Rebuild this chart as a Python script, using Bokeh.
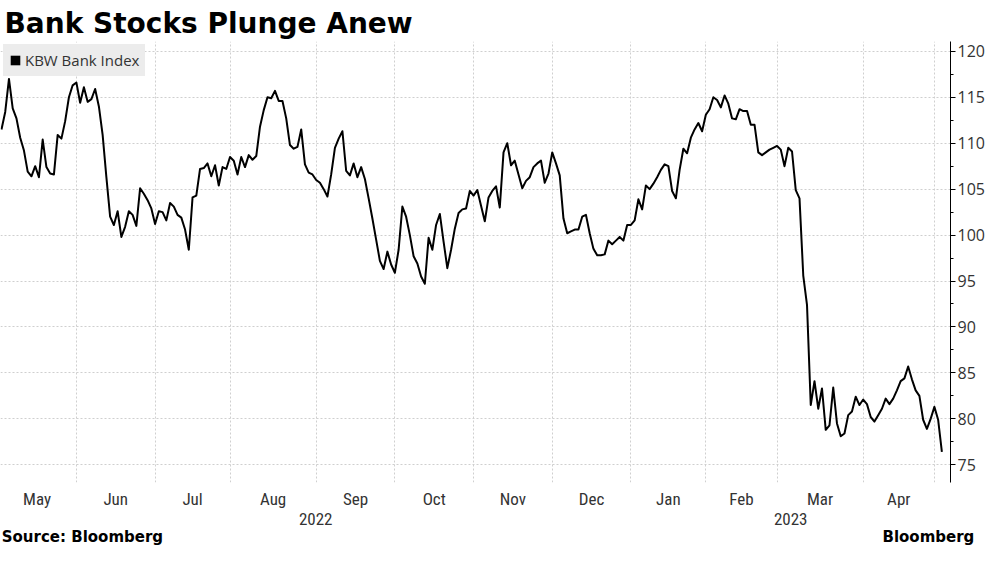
import numpy as np
import pandas as pd
from bokeh.plotting import figure
from bokeh.models import (Range1d, FixedTicker, Legend, LegendItem, ColumnDataSource, LinearAxis)
from bokeh.embed import file_html
from bokeh.resources import INLINE

TITLE = "Bank Stocks Plunge Anew"
SERIES_NAME = "KBW Bank Index"
SOURCE = "Source: Bloomberg"
BRAND = "Bloomberg"

START = "2022-05-02"
END = "2023-05-02"
HOLIDAYS = ["2022-05-30", "2022-06-20", "2022-07-04", "2022-09-05", "2022-11-24",
            "2022-12-26", "2023-01-02", "2023-01-16", "2023-02-20", "2023-04-07"]

MONTH_LABELS = ["May", "Jun", "Jul", "Aug", "Sep", "Oct", "Nov", "Dec",
                "Jan", "Feb", "Mar", "Apr"]
YEAR_LABELS = ["2022", "2023"]
Y_TICKS = [75, 80, 85, 90, 95, 100, 105, 110, 115, 120]

KBW = [
    111.5, 113.4, 117.0, 113.8, 112.7, 110.6, 109.2, 106.9, 106.4, 107.5,
    106.3, 110.4, 107.4, 106.7, 106.6, 110.9, 110.5, 112.4, 115.0, 116.3,
    116.6, 114.4, 116.1, 114.5, 114.8, 115.9, 114.0, 110.9, 106.3, 102.0,
    101.1, 102.6, 99.8, 100.9, 102.6, 102.2, 101.0, 105.1, 104.5, 103.8,
    102.9, 101.2, 102.6, 102.5, 101.6, 103.5, 103.1, 102.2, 101.9, 100.6,
    98.4, 104.1, 104.3, 107.2, 107.3, 107.8, 106.4, 107.6, 105.4, 107.4,
    107.2, 108.5, 108.1, 106.6, 108.5, 107.4, 108.7, 108.2, 108.6, 111.8,
    113.6, 115.0, 114.9, 115.7, 114.6, 114.6, 112.7, 109.8, 109.4, 109.6,
    111.5, 107.7, 106.8, 106.6, 106.0, 105.7, 105.0, 104.2, 106.6, 109.5,
    110.5, 111.3, 107.0, 106.5, 107.8, 106.3, 107.4, 106.1, 104.0, 101.8,
    99.5, 97.2, 96.3, 98.2, 96.8, 95.9, 98.4, 103.1, 102.0, 100.0,
    97.7, 96.9, 95.5, 94.7, 99.7, 98.4, 101.1, 102.3, 99.3, 96.4,
    98.4, 100.7, 102.4, 102.8, 102.9, 104.8, 104.3, 104.9, 103.2, 101.5,
    104.1, 104.8, 105.3, 103.0, 109.0, 110.0, 107.6, 108.1, 106.6, 105.1,
    105.9, 106.3, 107.4, 107.8, 108.1, 105.7, 106.7, 109.0, 107.8, 106.5,
    101.8, 100.2, 100.4, 100.6, 100.6, 102.0, 102.2, 100.2, 98.5, 97.8,
    97.8, 97.9, 99.4, 99.0, 99.4, 99.8, 99.4, 101.1, 101.1, 101.6,
    103.9, 102.8, 105.4, 105.0, 105.6, 106.3, 107.1, 107.7, 107.5, 104.8,
    104.0, 107.1, 109.4, 108.9, 110.6, 111.5, 112.2, 111.3, 113.1, 113.7,
    115.0, 114.7, 113.9, 115.2, 114.3, 112.7, 112.6, 113.7, 113.5, 113.5,
    112.0, 112.0, 109.0, 108.7, 109.0, 109.3, 109.5, 109.7, 109.3, 107.5,
    109.5, 109.1, 104.9, 104.0, 95.6, 92.4, 81.5, 84.1, 81.1, 83.3,
    78.8, 79.3, 83.4, 79.5, 78.1, 78.4, 80.4, 80.8, 82.4, 81.5,
    82.1, 81.6, 80.2, 79.7, 80.4, 81.1, 82.2, 81.6, 82.2, 83.1,
    84.1, 84.4, 85.7, 84.3, 83.1, 82.5, 79.9, 78.9, 80.0, 81.3,
    79.9, 76.4,
]

# trading-day axis
dates = pd.bdate_range(START, END, freq="C", holidays=HOLIDAYS)
n = min(len(dates), len(KBW))
dates = dates[:n]
idx = np.arange(n)
src = ColumnDataSource(dict(x=idx, y=KBW[:n], date=dates))

periods = dates.to_period("M")
uniq = periods.unique()
first_idx = [int(np.argmax(periods == pr)) for pr in uniq]
bounds = [f - 1 for f in first_idx]                  # month boundaries
label_pos = [(bounds[m] + bounds[m + 1]) / 2.0 for m in range(len(MONTH_LABELS))]
year_bound = first_idx[list(uniq.year).index(2023)] - 1

X0, X1 = -0.26, 253.3
Y0, Y1 = 73.07, 121.07
PX = 3.751  # px per trading day (layout helper for footer text positions)

TXT = "#333333"
GRID = "#cfcfcf"
LEG_BG = "#ececec"
NARROW = "'Liberation Sans Narrow', 'Roboto Condensed', Roboto"

p = figure(width=987, height=548, x_range=Range1d(X0, X1), y_range=Range1d(Y0, Y1),
           y_axis_location="right", toolbar_location=None, output_backend="svg",
           title=TITLE, min_border_left=0, min_border_right=36, min_border_top=41,
           min_border_bottom=62, outline_line_color=None, background_fill_color="white")

p.title.align = "left"
p.title.offset = 4
p.title.standoff = 4
p.title.text_font = "DejaVu Sans"
p.title.text_font_style = "bold"
p.title.text_font_size = "28px"
p.title.text_color = "black"

p.line("x", "y", source=src, line_color="black", line_width=2, line_join="round")
# invisible zero-size bars used only as the legend swatch
proxy = p.vbar(x="x", top="y", bottom="y", width=0, source=src,
               fill_color="black", line_color=None)

# y axis (right)
ya = p.yaxis[0]
ya.ticker = FixedTicker(ticks=Y_TICKS, minor_ticks=[t + 2.5 for t in Y_TICKS])
ya.axis_line_color = "black"
ya.major_tick_line_color = "black"
ya.minor_tick_line_color = "black"
ya.major_tick_out = 5
ya.major_tick_in = 0
ya.minor_tick_out = 3
ya.minor_tick_in = 0
ya.major_label_standoff = 2
ya.major_label_text_font = "Open Sans"
ya.major_label_text_font_size = "16px"
ya.major_label_text_color = TXT

def plain_axis(ax, standoff, font, size, color, style="normal"):
    ax.axis_line_color = None
    ax.major_tick_line_color = None
    ax.minor_tick_line_color = None
    ax.major_tick_out = 0
    ax.major_tick_in = 0
    ax.minor_tick_out = 0
    ax.major_label_standoff = standoff
    ax.major_label_text_font = font
    ax.major_label_text_font_size = size
    ax.major_label_text_font_style = style
    ax.major_label_text_color = color

# x axis (months)
xa = p.xaxis[0]
xa.ticker = FixedTicker(ticks=label_pos)
xa.major_label_overrides = {pos: lab for pos, lab in zip(label_pos, MONTH_LABELS)}
plain_axis(xa, 6, NARROW, "17px", TXT)

# year axis
year_pos = [(X0 + year_bound) / 2.0, (year_bound + X1) / 2.0]
ya2 = LinearAxis(ticker=FixedTicker(ticks=year_pos),
                 major_label_overrides={pos: lab for pos, lab in zip(year_pos, YEAR_LABELS)})
plain_axis(ya2, 1, NARROW, "17px", TXT)
p.add_layout(ya2, "below")

# footer axis: source (left) and brand (right)
foot_pos = [X0 + 82 / PX, X0 + 929 / PX]
fa = LinearAxis(ticker=FixedTicker(ticks=foot_pos),
                major_label_overrides={foot_pos[0]: SOURCE, foot_pos[1]: BRAND})
plain_axis(fa, 0, "DejaVu Sans", "15px", "black", "bold")
p.add_layout(fa, "below")

p.xgrid.ticker = FixedTicker(ticks=bounds)
p.ygrid.ticker = FixedTicker(ticks=Y_TICKS)
for g in (p.xgrid, p.ygrid):
    g.grid_line_color = GRID
    g.grid_line_dash = "2 2"
    g.grid_line_width = 1

# legend (border drawn in the background colour so that the padding applies)
legend = Legend(items=[LegendItem(label=SERIES_NAME, renderers=[proxy])],
                location="top_left", margin=3, padding=5, glyph_width=12, glyph_height=12,
                label_height=16, label_standoff=4, label_text_font="Open Sans",
                label_text_font_size="15px", label_text_color=TXT,
                background_fill_color=LEG_BG, background_fill_alpha=1.0,
                border_line_color=LEG_BG, border_line_width=1)
p.add_layout(legend)

open("out.html", "w").write(file_html(p, INLINE))
